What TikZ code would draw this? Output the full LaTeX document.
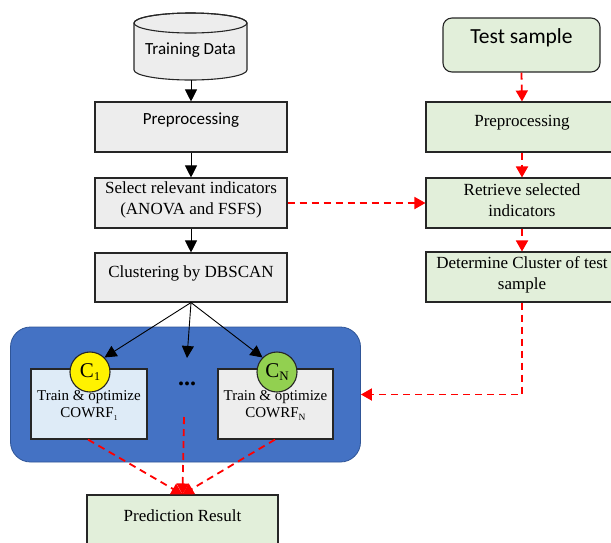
\documentclass[tikz,border=0pt]{standalone}
\usepackage{fontspec}
\setmainfont{Liberation Serif}
\newfontfamily\calfont{Carlito}
\usetikzlibrary{arrows.meta,calc}
\definecolor{boxgray}{HTML}{EDEDED}
\definecolor{boxgreen}{HTML}{E2EFDA}
\definecolor{boxblue}{HTML}{DEEBF7}
\definecolor{panelblue}{HTML}{4472C4}
\definecolor{paneledge}{HTML}{2F5597}
\definecolor{leafgreen}{HTML}{92D050}
\definecolor{flowred}{HTML}{FF0000}
\begin{document}
\begin{tikzpicture}[x=1pt,y=-1pt,
  box/.style={draw=black!85, line width=1.1pt, fill=boxgray, inner sep=0pt,
    minimum width=192pt, minimum height=50pt},
  greenbox/.style={box, fill=boxgreen},
  txt/.style={font=\fontsize{17}{20.5}\selectfont, align=center, inner sep=0pt},
  caltxt/.style={font=\calfont\fontsize{17}{20}\selectfont, align=center, inner sep=0pt},
  smalltxt/.style={font=\fontsize{15}{17}\selectfont, align=center, inner sep=0pt},
  ball/.style={circle, draw=black!85, line width=1.1pt, minimum size=40pt, inner sep=0pt,
    font=\fontsize{21}{21}\selectfont},
  blk/.style={-{Triangle[length=12pt,width=12pt]}, line width=0.9pt},
  redflow/.style={draw=flowred, line width=1.8pt, dash pattern=on 7pt off 5pt,
    -{Triangle[length=11pt,width=12pt,fill=flowred]}}
]
\path[use as bounding box, clip] (0,0) rectangle (611,542);

% training data store
\path[draw=black!85, line width=1.1pt, fill=boxgray]
  (134,23) -- (134,70) arc[start angle=180, end angle=0, x radius=56.5, y radius=10]
  -- (247,23) arc[start angle=0, end angle=-180, x radius=56.5, y radius=10] -- cycle;
\draw[black!85, line width=1.1pt] (190.5,23) ellipse[x radius=56.5, y radius=10];
\node[caltxt] (td) at (190.5,50) {Training Data};
\coordinate (tdbot) at (191,80);

% training column
\node[box] (pre1) at (191,127) {};
\node[caltxt] (pre1t) at (191,120) {Preprocessing};
\node[box] (sel) at (191,203) {};
\node[txt] (selt) at (191,200) {Select relevant indicators\\(ANOVA and FSFS)};
\node[box, minimum height=49pt] (clu) at (191,277.5) {};
\node[txt] (clut) at (191,273) {Clustering by DBSCAN};

% test column
\node[greenbox, rounded corners=9pt, minimum width=157pt, minimum height=54pt] (tst) at (521.5,45) {};
\node[font=\calfont\fontsize{21.5}{24}\selectfont, inner sep=0pt] (tstt) at (521.5,38) {Test sample};
\node[greenbox] (pre2) at (522,127) {};
\node[txt] (pre2t) at (522,123) {Preprocessing};
\node[greenbox] (ret) at (522,203) {};
\node[txt] (rett) at (522,200) {Retrieve selected\\indicators};
\node[greenbox] (det) at (522,277) {};
\node[txt] (dett) at (522,275) {Determine Cluster of test\\sample};

% cluster models panel
\node[draw=paneledge, line width=0.8pt, fill=panelblue, rounded corners=20pt,
  minimum width=350pt, minimum height=135pt] (blue) at (185.5,394.5) {};
\node[box, fill=boxblue, minimum width=116pt, minimum height=70pt] (b1) at (89,404) {};
\node[box, minimum width=115pt, minimum height=70pt] (bN) at (275.5,404) {};
\node[smalltxt] (b1t) at (89,406) {Train \& optimize\\COWRF{\fontsize{7.5}{7.5}\selectfont\raisebox{-3pt}{1}}};
\node[smalltxt] (bNt) at (275.5,406) {Train \& optimize\\COWRF{\fontsize{9.5}{9.5}\selectfont\raisebox{-3pt}{N}}};
\node[ball, fill=yellow] (c1) at (90,372) {C{\fontsize{12}{12}\selectfont\raisebox{-3pt}{1}}};
\node[ball, fill=leafgreen] (cN) at (277,372) {C{\fontsize{13}{13}\selectfont\raisebox{-3pt}{N}}};
\node[font=\bfseries\fontsize{24}{24}\selectfont, inner sep=0pt] (dots) at (187,384) {...};
\coordinate (mid) at (187,358);
\coordinate (m0) at (184,417);

% result
\node[greenbox, minimum width=191pt] (pred) at (182.5,520) {};
\node[txt] (predt) at (182.5,516) {Prediction Result};

% training flow
\draw[blk] (tdbot) -- (pre1.north);
\draw[blk] (pre1.south) -- (sel.north);
\draw[blk] (sel.south) -- (clu.north);
\draw[blk] (clu.south) -- (c1.45);
\draw[blk] (clu.south) -- (mid);
\draw[blk] (clu.south) -- (cN.135);

% test flow
\draw[redflow] (tst.south) -- (pre2.north);
\draw[redflow] (pre2.south) -- (ret.north);
\draw[redflow] (ret.south) -- (det.north);
\draw[redflow] (sel.east) -- (ret.west);
\draw[redflow] (det.south) |- (blue.east);

% predictions
\draw[redflow] ([xshift=-1pt]b1.south) -- (pred.north);
\draw[redflow] (m0) -- (pred.north);
\draw[redflow] ([xshift=-0.5pt]bN.south) -- (pred.north);
\end{tikzpicture}
\end{document}
